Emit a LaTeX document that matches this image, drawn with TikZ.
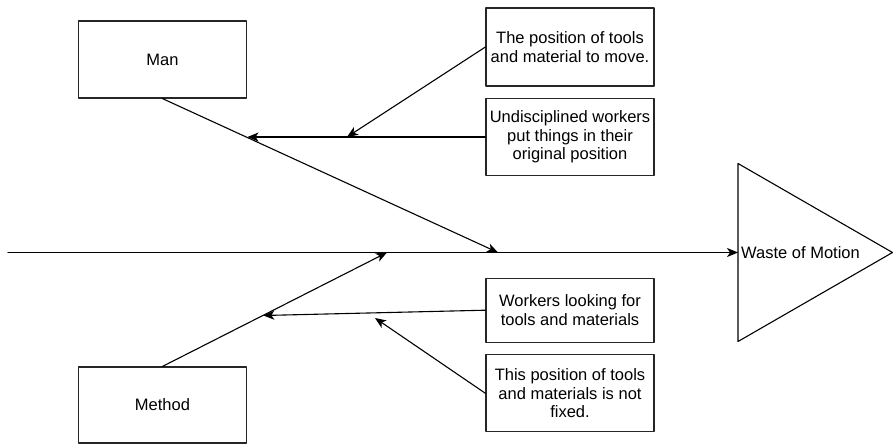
\documentclass[tikz,border=0pt]{standalone}
\usepackage{fontspec}
\setmainfont{Liberation Sans}
\usetikzlibrary{arrows.meta}

\begin{document}
\begin{tikzpicture}[x=1pt,y=-1pt,
  line cap=round,
  line join=round,
  every node/.style={font=\fontsize{16.5}{18.3}\selectfont},
  cause/.style={draw=black!85,line width=1.2pt,minimum width=168pt,
    inner sep=0pt,align=center},
  bone/.style={line width=1.1pt,-{Stealth[length=11pt,width=9pt,inset=3pt]}}]

  \useasboundingbox (0,0) rectangle (893,444);

  % 原因の箱
  \node[cause,minimum height=77pt] (man)    at (162.5, 59.5) {Man};
  \node[cause,minimum height=76pt] (method) at (162.5,405.0) {Method};

  \node[cause,minimum height=78pt] (pos)    at (570, 47.0)
    {The position of tools\\and material to move.};
  \node[cause,minimum height=77pt] (undis)  at (570,137.0)
    {Undisciplined workers\\put things in their\\original position};
  \node[cause,minimum height=64pt] (look)   at (570,310.2)
    {Workers looking for\\tools and materials};
  \node[cause,minimum height=77pt] (notfix) at (570,393.3)
    {This position of tools\\and materials is not\\fixed.};

  % 背骨と矢の先（計算済み）
  \coordinate (S)  at (  8.0,252.5);
  \coordinate (E)  at (738.0,252.5);
  \coordinate (Pm) at (498.0,252.5);
  \coordinate (Pd) at (387.0,252.5);
  \coordinate (Qm) at (247.5,137.0);
  \coordinate (Rm) at (347.0,137.0);
  \coordinate (Qd) at (263.3,315.5);
  \coordinate (Rd) at (375.0,318.0);

  % 結果（三角形）
  \draw[line width=1.1pt] (738,163.5)--(892.5,252.5)--(738,341.5)--cycle;
  \node[anchor=west,inner sep=0pt,xshift=3pt] (waste) at (E) {Waste of Motion};

  % 背骨
  \draw[bone] (S)--(E);

  % 大骨
  \draw[bone] (man.south)--(Pm);
  \draw[bone] (method.north)--(Pd);

  % 小骨
  \draw[bone] (undis.west)--(Qm);
  \draw[bone] (pos.west)--(Rm);
  \draw[bone] (look.west)--(Qd);
  \draw[bone] (notfix.west)--(Rd);

\end{tikzpicture}
\end{document}
